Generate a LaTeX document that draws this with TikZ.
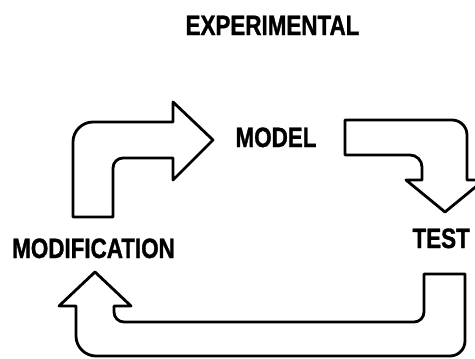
\documentclass[tikz,border=0pt]{standalone}
\usepackage{fontspec}
\newfontfamily\lblfont[FakeStretch=0.8,FakeBold=1.2]{Liberation Sans Bold}
\begin{document}
\begin{tikzpicture}[
    x=1pt, y=-1pt,
    bigarrow/.style={draw, fill=white, line width=2.8pt, line join=round},
    lbl/.style={font=\lblfont\fontsize{28}{30}\selectfont, inner sep=0pt, anchor=base}
]
\useasboundingbox (0,0) rectangle (475,359);
% labels
\node[lbl] (experimental) at (272.5,35) {EXPERIMENTAL};
\node[lbl] (model) at (276,147) {MODEL};
\node[lbl, anchor=base west] (modification) at (12,258) {MODIFICATION};
\node[lbl, anchor=base east] (test) at (470,248) {TEST};
% modification -> model
\draw[bigarrow] (73,217) -- (73,142) .. controls (73,131) and (82,122) .. (93,122)
    -- (173,122) -- (173,102) -- (213,140) -- (173,180) -- (173,158)
    -- (123,158) .. controls (117.5,158) and (113,162.5) .. (113,168)
    -- (113,217) -- cycle;
% model -> test
\draw[bigarrow] (345,120) -- (452,120) .. controls (460.3,120) and (467,126.7) .. (467,135)
    -- (467,180) -- (484,180) -- (445,212) -- (406,180) -- (422,180)
    -- (422,167) .. controls (422,160.4) and (416.6,155) .. (410,155)
    -- (345,155) -- cycle;
% test -> modification
\draw[bigarrow] (95,272) -- (131,306) -- (114,306)
    -- (114,312) .. controls (114,317.5) and (118.5,322) .. (124,322)
    -- (414,322) .. controls (419.5,322) and (424,317.5) .. (424,312)
    -- (424,274) -- (465,274)
    -- (465,341) .. controls (465,349.3) and (458.3,356) .. (450,356)
    -- (96,356) .. controls (85,356) and (76,347) .. (76,336)
    -- (76,306) -- (59,306) -- cycle;
\end{tikzpicture}
\end{document}
